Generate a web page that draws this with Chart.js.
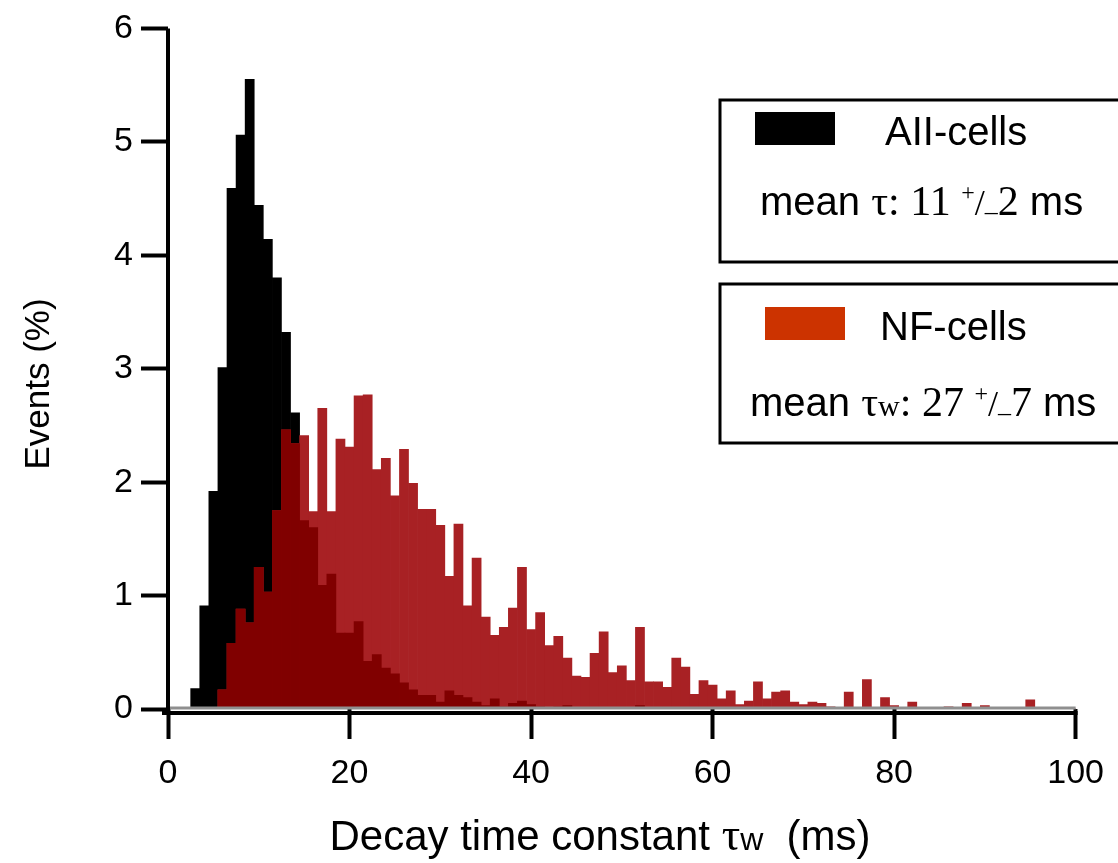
<!DOCTYPE html>
<html>
<head>
<meta charset="utf-8">
<script src="https://cdn.jsdelivr.net/npm/chart.js@4"></script>
<style>
  body { margin: 0; background: #fff; overflow: hidden; }
  canvas { display: block; }
</style>
</head>
<body>
<canvas id="decayChart" width="1118" height="863"></canvas>
<script>
// ================= DATA =================
// histogram bins are 1 ms wide, centred on 1..100 ms
const binCenters = Array.from({ length: 100 }, (_, i) => i + 1)

// Events (%) per bin, AII-cells
const aiiCells = [
  0, 0, 0.18, 0.91, 1.92, 3.01, 4.59, 5.06, 5.55, 4.44,
  4.14, 3.80, 3.32, 2.61, 1.66, 1.60, 1.09, 1.19, 0.67, 0.67,
  0.77, 0.42, 0.48, 0.36, 0.31, 0.23, 0.17, 0.12, 0.12, 0.06,
  0.16, 0.12, 0.10, 0.06, 0.03, 0.09, 0.02, 0.05, 0.07, 0.04,
  0.02, 0.01, 0.02, 0.03, 0.01, 0.01, 0.01, 0.01, 0.01, 0.01,
  0.01, 0.03, 0, 0, 0, 0, 0, 0, 0, 0,
  0, 0, 0, 0, 0, 0, 0, 0, 0, 0,
  0, 0, 0, 0, 0, 0, 0, 0, 0, 0,
  0, 0, 0, 0, 0, 0, 0, 0, 0, 0,
  0, 0, 0, 0, 0, 0, 0, 0, 0, 0
]

// Events (%) per bin, NF-cells
const nfCells = [
  0, 0, 0, 0, 0, 0.17, 0.58, 0.88, 0.76, 1.25,
  1.03, 1.75, 2.46, 2.34, 2.41, 1.74, 2.65, 1.74, 2.38, 2.31,
  2.76, 2.77, 2.11, 2.21, 1.88, 2.29, 1.99, 1.76, 1.76, 1.62,
  1.17, 1.63, 0.91, 1.33, 0.81, 0.65, 0.72, 0.89, 1.25, 0.70,
  0.85, 0.56, 0.64, 0.45, 0.29, 0.28, 0.49, 0.68, 0.32, 0.38,
  0.25, 0.72, 0.24, 0.24, 0.19, 0.45, 0.37, 0.13, 0.25, 0.21,
  0.09, 0.16, 0.04, 0.07, 0.24, 0.09, 0.15, 0.16, 0.06, 0.04,
  0.06, 0.05, 0.02, 0.01, 0.15, 0.01, 0.26, 0.01, 0.10, 0.03,
  0.01, 0.06, 0.01, 0.01, 0.01, 0.02, 0.01, 0.05, 0.01, 0.03,
  0.01, 0, 0, 0.01, 0.08, 0, 0, 0, 0, 0
]

const xTicks = [0, 20, 40, 60, 80, 100]
const yTicks = [0, 1, 2, 3, 4, 5, 6]

const legendNames = ['AII-cells', 'NF-cells']
const legendMeans = ['11', '27']
const legendErrs = ['2', '7']

// ================= STYLE =================
const SANS = '"Liberation Sans", Arial, sans-serif'
const SERIF = '"Liberation Serif", "Times New Roman", serif'
const BLACK = '#000000'
const NF_RED = '#a82124'
const OVERLAP = '#800000'
const NF_SWATCH = '#cc3300'

const toPoints = vals => binCenters.map((x, i) => ({ x, y: vals[i] }))
// where both histograms overlap the original shows a dark red
const overlap = aiiCells.map((v, i) => Math.min(v, nfCells[i]))

// draw a line of text made of runs with different fonts
function drawRuns(ctx, x, y, runs) {
  ctx.textBaseline = 'alphabetic'
  ctx.textAlign = 'left'
  runs.forEach(r => {
    ctx.font = r.font
    ctx.fillText(r.text, x, y + (r.dy || 0))
    x += ctx.measureText(r.text).width + (r.gap || 0)
  })
  return x
}

function runsWidth(ctx, runs) {
  let w = 0
  runs.forEach(r => {
    ctx.font = r.font
    w += ctx.measureText(r.text).width + (r.gap || 0)
  })
  return w
}

function meanRuns(i) {
  const runs = [{ text: 'mean ', font: `40px ${SANS}` }]
  if (i === 0) {
    runs.push({ text: 'τ: ', font: `42px ${SERIF}` })
  } else {
    runs.push({ text: 'τ', font: `42px ${SERIF}` })
    runs.push({ text: 'w', font: `30px ${SERIF}` })
    runs.push({ text: ': ', font: `42px ${SERIF}` })
  }
  runs.push({ text: legendMeans[i] + ' ', font: `42px ${SERIF}` })
  runs.push({ text: '+', font: `24px ${SERIF}`, dy: -15 })
  runs.push({ text: '/', font: `36px ${SERIF}` })
  runs.push({ text: '–', font: `26px ${SERIF}`, dy: 5 })
  runs.push({ text: legendErrs[i], font: `42px ${SERIF}` })
  runs.push({ text: ' ms', font: `40px ${SANS}` })
  return runs
}

const decorations = {
  id: 'decorations',
  afterDatasetsDraw(chart) {
    const { ctx, scales: { x, y } } = chart
    const x0 = x.getPixelForValue(0)
    const x1 = x.getPixelForValue(100)
    const y0 = y.getPixelForValue(0)
    const yTop = y.getPixelForValue(6)

    ctx.save()
    ctx.lineCap = 'butt'

    // grey zero line just under the bars
    ctx.strokeStyle = '#8f8f8f'
    ctx.lineWidth = 3
    ctx.beginPath(); ctx.moveTo(x0, y0 - 1); ctx.lineTo(x1, y0 - 1); ctx.stroke()

    // axes
    ctx.strokeStyle = BLACK
    ctx.lineWidth = 4
    ctx.beginPath(); ctx.moveTo(x0 - 6, y0 + 4); ctx.lineTo(x1 + 2, y0 + 4); ctx.stroke()
    ctx.beginPath(); ctx.moveTo(x0, yTop); ctx.lineTo(x0, y0 + 6); ctx.stroke()

    // y title
    ctx.fillStyle = BLACK
    ctx.save()
    ctx.translate(49, 384)
    ctx.rotate(-Math.PI / 2)
    ctx.font = `35px ${SANS}`
    ctx.textAlign = 'center'
    ctx.textBaseline = 'alphabetic'
    ctx.fillText('Events (%)', 0, 0)
    ctx.restore()

    // x title, mixed fonts like the original
    const titleRuns = [
      { text: 'Decay time constant ', font: `42px ${SANS}` },
      { text: 'τ', font: `46px ${SERIF}` },
      { text: 'w', font: `32px ${SANS}` },
      { text: '  (ms)', font: `42px ${SANS}` }
    ]
    const tw = runsWidth(ctx, titleRuns)
    drawRuns(ctx, 600 - tw / 2, 850, titleRuns)

    // legend boxes
    ctx.lineWidth = 3
    ctx.strokeStyle = BLACK
    ctx.strokeRect(720, 100, 440, 162)
    ctx.strokeRect(720, 284, 440, 159)

    ctx.fillStyle = BLACK
    ctx.fillRect(755, 112, 80, 33)
    ctx.fillStyle = NF_SWATCH
    ctx.fillRect(765, 307, 80, 33)

    ctx.fillStyle = BLACK
    drawRuns(ctx, 885, 145, [{ text: legendNames[0], font: `40px ${SANS}` }])
    drawRuns(ctx, 880, 340, [{ text: legendNames[1], font: `40px ${SANS}` }])
    drawRuns(ctx, 760, 215, meanRuns(0))
    drawRuns(ctx, 750, 416, meanRuns(1))

    ctx.restore()
  }
}

// ================= CHART =================
const barBase = {
  type: 'bar',
  grouped: false,
  barPercentage: 1,
  categoryPercentage: 1,
  borderWidth: 0
}

new Chart(document.getElementById('decayChart'), {
  type: 'bar',
  data: {
    datasets: [
      { ...barBase, label: legendNames[0], data: toPoints(aiiCells), backgroundColor: BLACK, order: 3 },
      { ...barBase, label: legendNames[1], data: toPoints(nfCells), backgroundColor: NF_RED, order: 2 },
      { ...barBase, label: 'overlap', data: toPoints(overlap), backgroundColor: OVERLAP, order: 1 }
    ]
  },
  options: {
    responsive: false,
    animation: false,
    devicePixelRatio: 1,
    layout: { padding: { left: 0, top: 28, right: 33, bottom: 0 } },
    plugins: {
      legend: { display: false },
      tooltip: { enabled: false }
    },
    scales: {
      x: {
        type: 'linear',
        min: 0,
        max: 100,
        offset: false,
        afterBuildTicks: s => { s.ticks = xTicks.map(v => ({ value: v })) },
        afterFit: s => { s.height = 154 },
        border: { display: false },
        grid: {
          offset: false,
          drawOnChartArea: false,
          drawTicks: true,
          tickLength: 30,
          tickWidth: 4,
          tickColor: BLACK
        },
        ticks: {
          color: BLACK,
          padding: 14,
          maxRotation: 0,
          font: { family: SANS, size: 34 }
        }
      },
      y: {
        min: 0,
        max: 6,
        afterBuildTicks: s => { s.ticks = yTicks.map(v => ({ value: v })) },
        afterFit: s => { s.width = 168 },
        border: { display: false },
        grid: {
          offset: false,
          drawOnChartArea: false,
          drawTicks: true,
          tickLength: 27,
          tickWidth: 4,
          tickColor: BLACK
        },
        ticks: {
          color: BLACK,
          padding: 8,
          font: { family: SANS, size: 34 }
        }
      }
    }
  },
  plugins: [decorations]
})
</script>
</body>
</html>
